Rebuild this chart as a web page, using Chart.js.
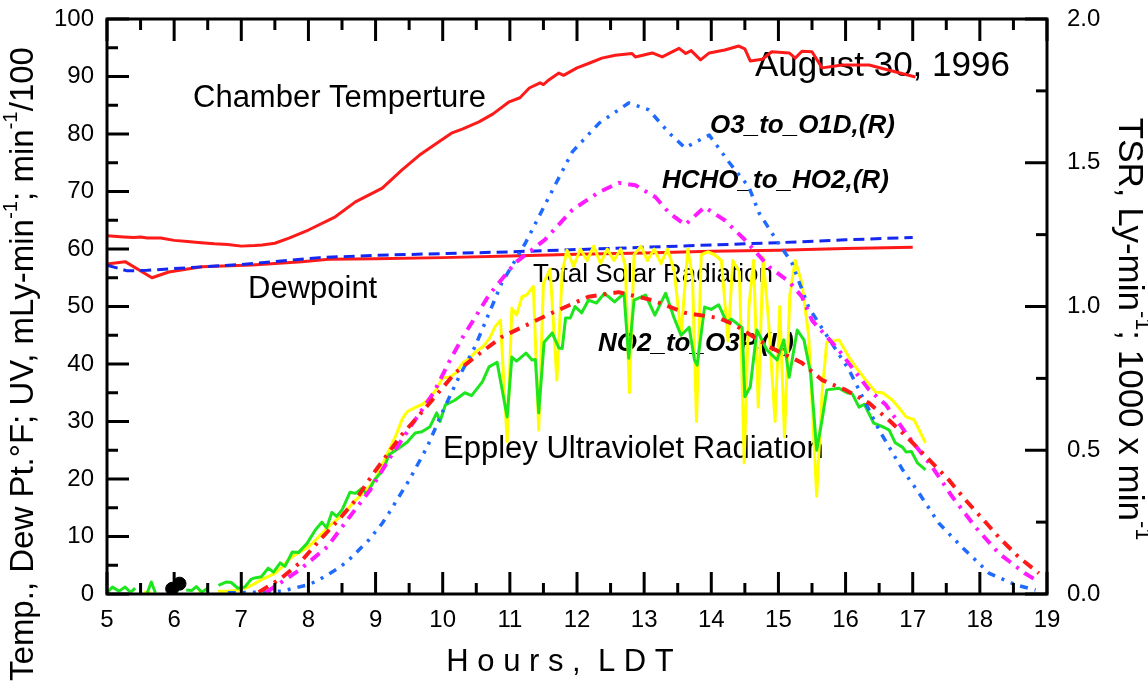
<!DOCTYPE html>
<html><head><meta charset="utf-8">
<script src="https://cdn.jsdelivr.net/npm/chart.js@4.4.1/dist/chart.umd.min.js"></script>
<style>html,body{margin:0;padding:0;background:#fff;}canvas{display:block;}</style>
</head><body>
<canvas id="c" width="1148" height="690"></canvas>
<script>
// ---------------- DATA (hours LDT, value) ----------------
const xTicks = [5,6,7,8,9,10,11,12,13,14,15,16,17,18,19];
const leftTicks = [0,10,20,30,40,50,60,70,80,90,100];
const rightTicks = [0.0,0.5,1.0,1.5,2.0];

// left axis, deg F
const chamberTemp = [[5.0,62.3],[5.25,62.1],[5.4,62.0],[5.5,62.1],[5.6,61.9],[5.8,61.9],[6.0,61.5],[6.2,61.3],[6.4,61.1],[6.6,60.9],
 [6.8,60.8],[7.0,60.5],[7.2,60.6],[7.31,60.7],[7.5,61.0],[7.71,61.9],[8.0,63.3],[8.4,65.6],[8.7,68.2],[9.1,70.6],
 [9.39,73.7],[9.65,76.3],[9.9,78.3],[10.14,80.2],[10.3,80.9],[10.54,82.1],[10.75,83.5],[10.99,85.6],[11.15,86.3],[11.29,88.0],
 [11.45,88.9],[11.5,88.6],[11.58,89.4],[11.73,90.6],[11.8,90.2],[12.0,91.5],[12.18,92.3],[12.37,93.2],[12.57,93.7],[12.82,94.0],
 [12.87,93.4],[13.12,94.1],[13.27,93.4],[13.52,94.9],[13.62,94.0],[13.7,94.5],[13.84,92.9],[13.97,94.1],[14.2,94.6],[14.41,95.3],
 [14.5,94.8],[14.58,92.7],[14.76,93.0],[14.9,94.3],[15.16,94.1],[15.25,93.2],[15.35,94.4],[15.5,94.3],[15.65,91.5],[15.95,92.0],
 [16.35,92.0],[16.65,91.1],[17.04,89.9]];
const dewpoint = [[5.0,57.4],[5.27,57.8],[5.67,55.0],[5.92,56.0],[6.41,56.9],[7.16,57.2],[7.9,57.8],[8.3,58.2],[9.0,58.3],[10.0,58.5],
 [11.0,58.8],[12.0,59.1],[13.0,59.3],[14.0,59.6],[15.0,59.8],[16.0,60.1],[17.0,60.3]];
const dewpoint2 = [[5.0,57.2],[5.3,56.2],[5.6,56.3],[6.0,56.6],[7.0,57.3],[8.16,58.5],[9.0,58.9],[10.0,59.2],[11.0,59.5],[12.0,59.9],
 [13.0,60.3],[14.0,60.7],[15.0,61.1],[16.0,61.6],[17.0,62.0]];
// left axis, mLy/min
const eppleyUV = [[5.0,0.2],[5.08,1.2],[5.18,0.5],[5.27,1.2],[5.35,0.3],[5.42,1.0],[5.5,null],[5.6,0.2],[5.66,2.1],[5.72,0.2],[5.9,null],
 [6.18,0.7],[6.26,0.6],[6.33,1.3],[6.41,0.3],[6.5,1.0],[6.58,null],[6.66,1.5],[6.78,2.1],[6.85,2.0],[6.95,1.0],[7.05,1.2],[7.15,2.6],
 [7.2,2.8],[7.3,3.0],[7.4,4.5],[7.48,3.8],[7.58,5.4],[7.65,4.8],[7.76,7.3],[7.85,7.2],[7.98,8.8],[8.1,11.1],[8.2,12.5],[8.27,11.5],
 [8.35,14.2],[8.42,13.5],[8.5,14.6],[8.62,17.7],[8.7,17.5],[8.8,18.4],[8.87,17.3],[8.98,19.8],[9.07,21.0],[9.14,22.4],[9.2,24.2],
 [9.35,25.4],[9.47,26.4],[9.59,28.0],[9.69,28.2],[9.81,29.1],[9.91,31.5],[9.96,30.0],[10.04,32.9],[10.18,33.7],[10.33,35.0],
 [10.43,34.5],[10.59,36.9],[10.69,39.5],[10.81,40.3],[10.96,30.8],[11.03,41.2],[11.1,40.5],[11.24,41.9],[11.33,40.7],[11.38,40.8],
 [11.43,31.5],[11.51,43.8],[11.63,45.4],[11.73,42.8],[11.78,42.7],[11.83,48.0],[11.9,48.0],[11.97,50.0],[12.07,48.9],[12.17,51.1],
 [12.29,50.6],[12.41,52.3],[12.56,50.8],[12.7,52.3],[12.77,41.0],[12.85,51.1],[13.02,52.0],[13.16,48.5],[13.32,52.3],[13.44,48.2],
 [13.55,45.0],[13.67,46.4],[13.75,40.7],[13.79,39.8],[13.9,49.9],[14.0,49.5],[14.11,50.3],[14.23,47.3],[14.3,47.8],[14.46,46.3],
 [14.5,34.3],[14.58,36.0],[14.68,45.9],[14.83,42.4],[14.98,40.7],[15.08,44.2],[15.16,37.7],[15.28,45.9],[15.38,44.2],[15.48,38.4],
 [15.57,25.0],[15.65,30.3],[15.72,35.5],[15.9,35.8],[16.02,35.0],[16.1,34.8],[16.2,32.5],[16.28,33.0],[16.42,29.7],[16.57,29.0],
 [16.65,28.5],[16.74,26.3],[16.85,25.5],[16.9,24.7],[16.98,24.8],[17.07,22.8],[17.19,21.6]];
// left axis, min^-1 / 100
const no2ToO3P = [[7.26,0.3],[7.6,2.8],[7.87,5.4],[8.17,9.4],[8.45,12.9],[8.7,16.3],[8.97,21.0],[9.17,24.2],[9.39,27.7],[9.65,31.1],
 [9.87,34.1],[10.18,38.4],[10.48,41.2],[10.88,44.7],[11.2,46.5],[11.63,48.9],[12.17,51.7],[12.62,52.5],[13.12,51.1],[13.61,48.9],
 [14.11,48.0],[14.35,46.8],[14.86,43.0],[15.35,40.2],[15.65,37.2],[16.0,35.5],[16.35,33.2],[16.64,30.3],[16.94,27.0],[17.29,22.8],
 [17.54,19.8],[17.79,16.3],[18.03,13.2],[18.28,9.9],[18.58,6.4],[18.88,3.6]];
// right axis, Ly/min
const totalSolar = [[5.55,0.006],[5.65,0.006],[5.7,null],[6.36,0.008],[6.45,0.008],[6.5,null],[6.65,0.01],[6.8,0.01],[6.9,0.012],
 [7.0,0.016],[7.1,0.024],[7.2,0.036],[7.3,0.05],[7.4,0.06],[7.5,0.072],[7.6,0.092],[7.7,0.118],[7.8,0.136],[7.9,0.15],[8.0,0.164],
 [8.1,0.186],[8.2,0.21],[8.3,0.234],[8.4,0.254],[8.5,0.274],[8.6,0.30],[8.7,0.326],[8.8,0.348],[8.9,0.372],[9.0,0.40],[9.1,0.45],
 [9.2,0.50],[9.3,0.55],[9.4,0.61],[9.47,0.634],[9.6,0.65],[9.7,0.66],[9.8,0.68],[9.9,0.71],[10.0,0.752],[10.1,0.754],[10.2,0.77],
 [10.3,0.804],[10.4,0.82],[10.5,0.844],[10.6,0.86],[10.7,0.89],[10.78,0.93],[10.86,0.952],[10.96,0.53],[11.03,0.994],[11.1,0.97],
 [11.18,1.034],[11.25,1.04],[11.35,1.07],[11.43,0.57],[11.5,1.08],[11.6,1.13],[11.7,0.744],[11.78,1.12],[11.85,1.196],[11.95,1.14],
 [12.05,1.2],[12.15,1.16],[12.25,1.21],[12.35,1.15],[12.45,1.2],[12.55,1.16],[12.65,1.2],[12.72,1.14],[12.78,0.70],[12.85,1.18],
 [12.95,1.21],[13.05,1.16],[13.15,1.2],[13.25,1.15],[13.35,1.2],[13.45,1.12],[13.55,0.90],[13.65,1.2],[13.72,1.1],[13.78,0.60],
 [13.85,1.18],[13.95,1.19],[14.05,1.18],[14.15,1.16],[14.25,0.88],[14.32,1.16],[14.42,1.12],[14.49,0.456],[14.56,1.0],[14.63,1.16],
 [14.7,0.65],[14.77,1.172],[14.85,0.96],[14.95,0.60],[15.02,1.0],[15.09,0.546],[15.17,1.04],[15.25,1.16],[15.35,1.08],[15.45,0.90],
 [15.57,0.34],[15.65,0.70],[15.72,0.876],[15.9,0.884],[16.05,0.824],[16.15,0.79],[16.3,0.744],[16.45,0.702],[16.55,0.70],[16.7,0.674],
 [16.8,0.646],[16.9,0.616],[17.02,0.606],[17.19,0.526]];
// right axis, 1000 x min^-1
const o3ToO1D = [[6.8,0.004],[7.2,0.006],[7.6,0.01],[8.0,0.032],[8.15,0.048],[8.45,0.09],[8.6,0.118],[8.9,0.188],[9.1,0.246],[9.2,0.282],
 [9.5,0.396],[9.77,0.512],[9.99,0.63],[10.24,0.754],[10.48,0.86],[10.88,1.082],[11.23,1.22],[11.58,1.38],[11.93,1.538],[12.33,1.638],
 [12.77,1.708],[13.07,1.684],[13.37,1.604],[13.61,1.552],[13.8,1.576],[13.97,1.596],[14.27,1.5],[14.56,1.416],[14.71,1.326],[14.9,1.256],
 [15.2,1.152],[15.45,0.998],[15.6,0.942],[16.05,0.78],[16.5,0.57],[16.85,0.432],[17.09,0.352],[17.39,0.246],[17.73,0.164],[18.14,0.072],
 [18.53,0.032],[18.83,0.014]];
const hchoToHO2 = [[7.36,0.004],[7.87,0.084],[8.28,0.164],[8.6,0.264],[8.92,0.362],[9.22,0.476],[9.59,0.606],[9.87,0.702],[10.11,0.814],
 [10.29,0.89],[10.69,1.04],[11.08,1.152],[11.52,1.232],[11.93,1.336],[12.33,1.398],[12.62,1.43],[12.87,1.422],[13.17,1.38],[13.37,1.326],
 [13.61,1.284],[13.9,1.346],[14.2,1.3],[14.5,1.232],[14.86,1.138],[15.16,1.086],[15.35,1.034],[15.5,0.952],[15.9,0.848],[16.35,0.71],
 [16.6,0.658],[16.94,0.546],[17.29,0.442],[17.59,0.338],[17.93,0.234],[18.28,0.142],[18.67,0.072],[18.88,0.042]];
const blackMarks = [[5.97,0.9],[6.08,1.8]];

// ---------------- CHART ----------------
const FONT = "'Liberation Sans', Arial, sans-serif";
const toXY = arr => arr.map(p => ({x: p[0], y: p[1]}));

const labels = [
  {t:'Chamber Temperture', x:193, y:107, f:'31px '+FONT},
  {t:'Dewpoint', x:248, y:298, f:'31px '+FONT},
  {t:'Total Solar Radiation', x:533, y:282, f:'26px '+FONT},
  {t:'NO2_to_O3P,(L)', x:598, y:351, f:'italic bold 26px '+FONT},
  {t:'Eppley Ultraviolet Radiation', x:443, y:458, f:'31px '+FONT},
  {t:'August 30, 1996', x:755, y:76, f:'35px '+FONT},
  {t:'O3_to_O1D,(R)', x:710, y:133, f:'italic bold 26px '+FONT},
  {t:'HCHO_to_HO2,(R)', x:662, y:188, f:'italic bold 26px '+FONT}
];

function drawRich(ctx, segs, size){
  const sup = size*0.62;
  let w = 0;
  segs.forEach(s => { ctx.font = (s.sup?sup:size)+'px '+FONT; w += ctx.measureText(s.t).width; });
  let x = -w/2;
  segs.forEach(s => {
    ctx.font = (s.sup?sup:size)+'px '+FONT;
    ctx.fillText(s.t, x, s.sup ? -size*0.38 : 0);
    x += ctx.measureText(s.t).width;
  });
}

const decorPlugin = {
  id:'decor',
  beforeDatasetsDraw(chart){
    const ctx = chart.ctx;
    ctx.save();
    ctx.fillStyle = '#000';
    ctx.textBaseline = 'alphabetic';
    ctx.textAlign = 'left';
    labels.forEach(l => { ctx.font = l.f; ctx.fillText(l.t, l.x, l.y); });
    ctx.restore();
  },
  afterDatasetsDraw(chart){
    const {ctx, chartArea:a, scales} = chart;
    const x = scales.x, y = scales.y, y2 = scales.y2;
    ctx.save();
    ctx.strokeStyle = '#000';
    ctx.lineWidth = 3;
    ctx.lineCap = 'butt';
    const ln = (x1,y1,x2,y2_) => { ctx.beginPath(); ctx.moveTo(x1,y1); ctx.lineTo(x2,y2_); ctx.stroke(); };
    for (let h = 5; h <= 19.001; h += 0.5) {
      const px = x.getPixelForValue(h);
      const L = Math.abs(h - Math.round(h)) < 1e-6 ? 22 : 11;
      ln(px, a.bottom, px, a.bottom - L);
      ln(px, a.top, px, a.top + L);
    }
    for (let v = 0; v <= 100.001; v += 5) {
      const py = y.getPixelForValue(v);
      const L = v % 10 === 0 ? 22 : 11;
      ln(a.left, py, a.left + L, py);
    }
    for (let v = 0; v <= 2.001; v += 0.25) {
      const py = y2.getPixelForValue(v);
      const L = Math.abs(v*2 - Math.round(v*2)) < 1e-6 ? 22 : 11;
      ln(a.right, py, a.right - L, py);
    }
    ctx.strokeRect(a.left, a.top, a.right - a.left, a.bottom - a.top);
    ctx.restore();
  },
  afterDraw(chart){
    const ctx = chart.ctx;
    ctx.save();
    ctx.fillStyle = '#000';
    ctx.textBaseline = 'middle';
    ctx.textAlign = 'left';
    // left title
    ctx.save();
    ctx.translate(24, 364);
    ctx.rotate(-Math.PI/2);
    drawRich(ctx, [{t:'Temp., Dew Pt.°F; UV, mLy-min'},{t:'-1',sup:true},{t:'; min'},{t:'-1',sup:true},{t:'/100'}], 33);
    ctx.restore();
    // right title
    ctx.save();
    ctx.translate(1129, 329);
    ctx.rotate(Math.PI/2);
    drawRich(ctx, [{t:'TSR, Ly-min'},{t:'-1',sup:true},{t:'; 1000 x min'},{t:'-1',sup:true}], 35);
    ctx.restore();
    // x title
    ctx.font = '31px '+FONT;
    ctx.textAlign = 'center';
    ctx.textBaseline = 'alphabetic';
    ctx.fillText('H o u r s ,  L D T', 560, 671);
    ctx.restore();
  }
};

const lineDs = (label, data, color, axis, width, dash, order) => ({
  label, data: toXY(data), yAxisID: axis, borderColor: color, backgroundColor: color,
  borderWidth: width, borderDash: dash, pointRadius: 0, fill: false, tension: 0,
  spanGaps: false, order, borderCapStyle: 'butt', borderJoinStyle: 'round'
});

new Chart(document.getElementById('c'), {
  type: 'line',
  data: {
    datasets: [
      lineDs('NO2_to_O3P', no2ToO3P, '#ff1a1a', 'y', 4, [11,7,3,7], 1),
      lineDs('HCHO_to_HO2', hchoToHO2, '#ff1aff', 'y2', 4, [11,7,3,7], 2),
      lineDs('O3_to_O1D', o3ToO1D, '#1f6bff', 'y2', 3.5, [8,7,3,7,3,7], 3),
      lineDs('Eppley UV', eppleyUV, '#1ee61e', 'y', 3, [], 4),
      lineDs('Total Solar Radiation', totalSolar, '#ffff00', 'y2', 3, [], 5),
      lineDs('Dewpoint 2', dewpoint2, '#1428f0', 'y', 3, [11,6], 6),
      lineDs('Dewpoint', dewpoint, '#ff1a1a', 'y', 3, [], 7),
      lineDs('Chamber Temperature', chamberTemp, '#ff1a1a', 'y', 3, [], 8),
      {label:'marks', data: toXY(blackMarks), yAxisID:'y', showLine:false, pointRadius:6.5,
       pointBackgroundColor:'#000', pointBorderColor:'#000', order:0}
    ]
  },
  options: {
    responsive: false, animation: false, devicePixelRatio: 1,
    layout: { padding: { top: 19, left: 0, right: 0, bottom: 0 } },
    plugins: { legend: {display:false}, tooltip: {enabled:false} },
    scales: {
      x: {
        type: 'linear', min: xTicks[0], max: xTicks[xTicks.length-1],
        afterFit: s => { s.height = 96; s.paddingLeft = 0; s.paddingRight = 0; },
        afterBuildTicks: s => { s.ticks = xTicks.map(v => ({value:v})); },
        grid: {display:false, drawTicks:false}, border: {display:false},
        ticks: {autoSkip:false, maxRotation:0, padding: 12, color:'#000', font:{family:FONT, size:24}, callback: v => String(v)}
      },
      y: {
        type: 'linear', position: 'left', min: leftTicks[0], max: leftTicks[leftTicks.length-1],
        afterFit: s => { s.width = 107; s.paddingTop = 0; s.paddingBottom = 0; },
        afterBuildTicks: s => { s.ticks = leftTicks.map(v => ({value:v})); },
        grid: {display:false, drawTicks:false}, border: {display:false},
        ticks: {padding: 13, color:'#000', font:{family:FONT, size:24}, callback: v => String(v)}
      },
      y2: {
        type: 'linear', position: 'right', min: rightTicks[0], max: rightTicks[rightTicks.length-1],
        afterFit: s => { s.width = 101; s.paddingTop = 0; s.paddingBottom = 0; },
        afterBuildTicks: s => { s.ticks = rightTicks.map(v => ({value:v})); },
        grid: {display:false, drawTicks:false}, border: {display:false},
        ticks: {padding: 20, color:'#000', font:{family:FONT, size:24}, callback: v => Number(v).toFixed(1)}
      }
    }
  },
  plugins: [decorPlugin]
});
</script>
</body></html>
